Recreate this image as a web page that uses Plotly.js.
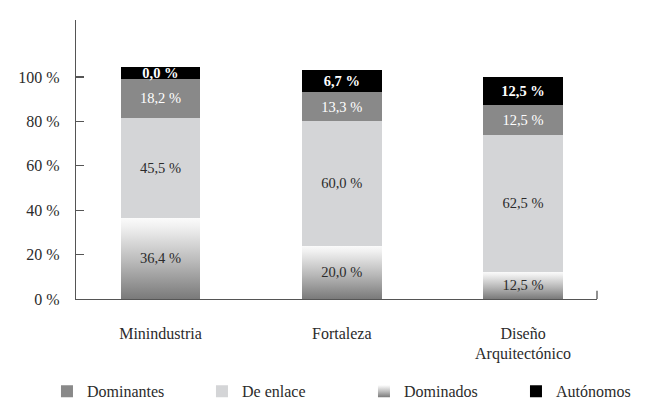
<!DOCTYPE html>
<html>
<head>
<meta charset="utf-8">
<script src="https://cdn.plot.ly/plotly-3.0.1.min.js"></script>
<style>
html, body { margin: 0; padding: 0; background: #ffffff; }
#chart { width: 650px; height: 414px; }
</style>
</head>
<body>
<div id="chart"></div>
<script>
// ---- data ----
const categories = ['Minindustria', 'Fortaleza', 'Diseño<br>Arquitectónico'];

const dominados  = [36.5, 24.1, 12.2];
const deEnlace   = [45.0, 55.9, 61.8];
const dominantes = [17.7, 13.2, 13.5];
const autonomos  = [5.3, 10.0, 12.3];

const dominadosLabels  = ['36,4 %', '20,0 %', '12,5 %'];
const deEnlaceLabels   = ['45,5 %', '60,0 %', '62,5 %'];
const dominantesLabels = ['18,2 %', '13,3 %', '12,5 %'];
const autonomosLabels  = ['0,0 %', '6,7 %', '12,5 %'];

const yTickValues = [0, 20, 40, 60, 80, 100];
const yTickLabels = ['0 %', '20 %', '40 %', '60 %', '80 %', '100 %'];

// ---- styles ----
const FONT = "'Liberation Serif', 'Times New Roman', serif";
const AXIS_COLOR = '#555555';
const TEXT_DARK = '#2b2b2b';
const BAR_WIDTH = 0.44;

function barTrace(name, values, labels, color, textColor, rank, legendWidth, weight) {
  return {
    type: 'bar',
    name: name,
    x: categories,
    y: values,
    text: labels,
    textposition: 'inside',
    insidetextanchor: 'middle',
    constraintext: 'none',
    textangle: 0,
    textfont: { family: FONT, size: 14.5, color: textColor, weight: weight || 'normal' },
    width: BAR_WIDTH,
    marker: { color: color, line: { width: 0 } },
    legendrank: rank,
    legendwidth: legendWidth,
    hoverinfo: 'none'
  };
}

const data = [
  barTrace('Dominados', dominados, dominadosLabels, '#b4b4b4', TEXT_DARK, 3, 107),
  barTrace('De enlace', deEnlace, deEnlaceLabels, '#d4d5d7', TEXT_DARK, 2, 117),
  barTrace('Dominantes', dominantes, dominantesLabels, '#898989', '#ffffff', 1, 110),
  barTrace('Autónomos', autonomos, autonomosLabels, '#000000', '#ffffff', 4, 76, 'bold')
];

const layout = {
  width: 650,
  height: 414,
  paper_bgcolor: '#ffffff',
  plot_bgcolor: '#ffffff',
  barmode: 'stack',
  margin: { l: 76, r: 53, t: 20, b: 115, pad: 0, autoexpand: false },
  font: { family: FONT, size: 16, color: TEXT_DARK },
  showlegend: true,
  xaxis: {
    type: 'category',
    range: [-0.466, 2.408],
    showline: true,
    linecolor: AXIS_COLOR,
    linewidth: 1.3,
    showgrid: false,
    zeroline: false,
    ticks: '',
    ticklabelstandoff: 19,
    tickfont: { family: FONT, size: 16, color: TEXT_DARK },
    fixedrange: true
  },
  yaxis: {
    range: [0, 125.7],
    tickvals: yTickValues,
    ticktext: yTickLabels,
    ticks: 'inside',
    ticklen: 8,
    tickwidth: 1.3,
    tickcolor: AXIS_COLOR,
    showline: true,
    linecolor: AXIS_COLOR,
    linewidth: 1.3,
    showgrid: false,
    zeroline: false,
    ticklabelstandoff: 12,
    tickfont: { family: FONT, size: 16, color: TEXT_DARK },
    fixedrange: true
  },
  legend: {
    orientation: 'h',
    x: -0.0557,
    xanchor: 'left',
    y: -0.331,
    yanchor: 'middle',
    traceorder: 'normal',
    font: { family: FONT, size: 16, color: TEXT_DARK },
    bgcolor: 'rgba(0,0,0,0)'
  },
  shapes: [
    { type: 'line', xref: 'paper', yref: 'paper', x0: 1, x1: 1, y0: 0, y1: 0.03,
      line: { color: AXIS_COLOR, width: 1.3 } }
  ]
};

const gd = document.getElementById('chart');

function applyGradient() {
  const ns = 'http://www.w3.org/2000/svg';
  const svg = gd.querySelector('svg.main-svg');
  let defs = svg.querySelector('defs');
  if (!defs) { defs = document.createElementNS(ns, 'defs'); svg.insertBefore(defs, svg.firstChild); }
  const lg = document.createElementNS(ns, 'linearGradient');
  lg.setAttribute('id', 'dominadosGrad');
  lg.setAttribute('x1', '0'); lg.setAttribute('y1', '0');
  lg.setAttribute('x2', '0'); lg.setAttribute('y2', '1');
  [['0', '#fbfbfb'], ['0.12', '#efefef'], ['0.55', '#b8b8b8'], ['1', '#7a7a7a']].forEach(function (s) {
    const st = document.createElementNS(ns, 'stop');
    st.setAttribute('offset', s[0]);
    st.setAttribute('stop-color', s[1]);
    lg.appendChild(st);
  });
  defs.appendChild(lg);

  gd.querySelectorAll('.barlayer .trace').forEach(function (t, i) {
    const d = t.__data__;
    const name = d && d[0] && d[0].trace ? d[0].trace.name : (i === 0 ? 'Dominados' : '');
    if (name === 'Dominados') {
      t.querySelectorAll('path').forEach(function (p) { p.style.fill = 'url(#dominadosGrad)'; });
    }
  });
  gd.querySelectorAll('.legend .traces').forEach(function (t) {
    const txt = t.querySelector('.legendtext');
    if (txt && txt.textContent === 'Dominados') {
      t.querySelectorAll('.legendpoints path').forEach(function (p) { p.style.fill = 'url(#dominadosGrad)'; });
    }
  });
}

Plotly.newPlot(gd, data, layout, { displayModeBar: false, staticPlot: true }).then(applyGradient);
</script>
</body>
</html>
